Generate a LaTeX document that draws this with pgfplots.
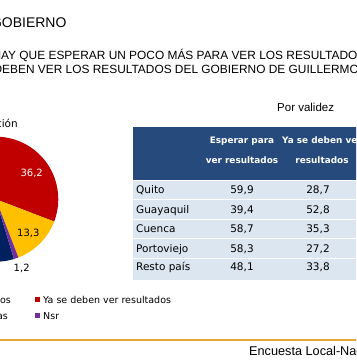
\documentclass[border=0pt]{standalone}
\usepackage{fontspec}
\setmainfont{Liberation Sans}
\newfontfamily\tah{DejaVu Sans}
\usepackage{pgfplots}
\usepackage{pgfplotstable}
\pgfplotsset{compat=1.18}
\definecolor{pieNavy}{HTML}{002060}
\definecolor{pieRed}{HTML}{C00000}
\definecolor{pieYel}{HTML}{FFC000}
\definecolor{piePur}{HTML}{7030A0}
\definecolor{hdr}{HTML}{254A7B}
\definecolor{rowc}{HTML}{DCE6F1}
\definecolor{orng}{HTML}{E3A835}

\pgfplotstableread{
cat value
Esperar 49.3
Ya 36.2
Ambas 13.3
Nsr 1.2
}\piedata

\pgfplotstableread[col sep=semicolon]{
ciudad;esperar;ya
Quito;59,9;28,7
Guayaquil;39,4;52,8
Cuenca;58,7;35,3
Portoviejo;58,3;27,2
Resto país;48,1;33,8
}\tabdata

\begin{document}
\begin{tikzpicture}[x=1pt,y=1pt]
\pgfplotstablegetelem{0}{value}\of\piedata \let\vA\pgfplotsretval
\pgfplotstablegetelem{1}{value}\of\piedata \let\vB\pgfplotsretval
\pgfplotstablegetelem{2}{value}\of\piedata \let\vC\pgfplotsretval
\pgfplotstablegetelem{3}{value}\of\piedata \let\vD\pgfplotsretval
\def\rot{-73.12}
\pgfmathsetmacro\angA{\rot}
\pgfmathsetmacro\angB{\angA-3.6*\vA}
\pgfmathsetmacro\angC{\angB-3.6*\vB}
\pgfmathsetmacro\angD{\angC-3.6*\vC}
\pgfmathsetmacro\angE{\angD-3.6*\vD}
\def\pieR{62.5}
\def\pcx{-4.2}
\def\pcy{164.8}
\pgfmathsetmacro\pAx{\pcx+\pieR*cos(\angA)}\pgfmathsetmacro\pAy{\pcy+\pieR*sin(\angA)}
\pgfmathsetmacro\pBx{\pcx+\pieR*cos(\angB)}\pgfmathsetmacro\pBy{\pcy+\pieR*sin(\angB)}
\pgfmathsetmacro\pCx{\pcx+\pieR*cos(\angC)}\pgfmathsetmacro\pCy{\pcy+\pieR*sin(\angC)}
\pgfmathsetmacro\pDx{\pcx+\pieR*cos(\angD)}\pgfmathsetmacro\pDy{\pcy+\pieR*sin(\angD)}
\begin{scope}
\clip (0,0) rectangle (356,364);
% pie (axis spans the whole picture, 1 unit = 1pt)
\begin{axis}[hide axis, x=1pt, y=1pt, xmin=0, xmax=356, ymin=0, ymax=364,
  anchor=south west, at={(0,0)}, clip=false, scale only axis]
\addplot[draw=none] coordinates {(0,0)};
\fill[pieNavy] (axis cs:\pcx,\pcy) -- (axis cs:\pAx,\pAy) arc[start angle=\angA, end angle=\angB, radius=\pieR pt] -- cycle;
\fill[pieRed] (axis cs:\pcx,\pcy) -- (axis cs:\pBx,\pBy) arc[start angle=\angB, end angle=\angC, radius=\pieR pt] -- cycle;
\fill[pieYel] (axis cs:\pcx,\pcy) -- (axis cs:\pCx,\pCy) arc[start angle=\angC, end angle=\angD, radius=\pieR pt] -- cycle;
\fill[piePur] (axis cs:\pcx,\pcy) -- (axis cs:\pDx,\pDy) arc[start angle=\angD, end angle=\angE, radius=\pieR pt] -- cycle;
\node[white, font=\tah\fontsize{10}{12}\selectfont, inner sep=0] at (axis cs:31.7,190.7) {36,2};
\node[black, font=\tah\fontsize{10}{12}\selectfont, inner sep=0] at (axis cs:28.3,130.7) {13,3};
\node[black, font=\tah\fontsize{10}{12}\selectfont, inner sep=0] at (axis cs:21.7,96) {1,2};
\end{axis}
% titles
\node[anchor=base east, inner sep=0, font=\fontsize{14}{16}\selectfont] at (66.7,336) {EVALUACIÓN DEL GOBIERNO};
\node[anchor=base west, inner sep=0, font=\fontsize{11.9}{13}\selectfont] at (-7.6,304) {HAY QUE ESPERAR UN POCO MÁS PARA VER LOS RESULTADOS};
\node[anchor=base west, inner sep=0, font=\fontsize{11.9}{13}\selectfont] at (-6.6,290.5) {DEBEN VER LOS RESULTADOS DEL GOBIERNO DE GUILLERMO LASSO?};
\node[anchor=base west, inner sep=0, font=\fontsize{11.5}{13}\selectfont] at (277,252) {Por validez};
\node[anchor=base east, inner sep=0, font=\tah\fontsize{10.5}{12}\selectfont] at (18,236) {Población};
% table
\fill[hdr] (133,184) rectangle (370,237);
\foreach \t/\b in {180/199.5, 199.5/219, 219/238.5, 238.5/258, 258/280}{
  \fill[rowc] (133,{364-\t-1}) rectangle (370,{364-\b});
}
\begin{scope}[every node/.style={inner sep=0, text=white, font=\tah\bfseries\fontsize{8.9}{10}\selectfont}]
\node[anchor=base] at (242,220.5) {Esperar para};
\node[anchor=base] at (242,200.5) {ver resultados};
\node[anchor=base] at (322,220.5) {Ya se deben ver};
\node[anchor=base] at (322,200.5) {resultados};
\end{scope}
\begin{scope}[every node/.style={inner sep=0, font=\tah\fontsize{10.5}{12}\selectfont}]
\foreach \r/\c in {0/190, 1/209.5, 2/229, 3/248.5, 4/267}{
  \pgfplotstablegetelem{\r}{ciudad}\of\tabdata
  \node[anchor=base west] at (136,{364-\c-3.8}) {\pgfplotsretval};
  \pgfplotstablegetelem{\r}{esperar}\of\tabdata
  \node[anchor=base] at (242,{364-\c-3.8}) {\pgfplotsretval};
  \pgfplotstablegetelem{\r}{ya}\of\tabdata
  \node[anchor=base] at (318,{364-\c-3.8}) {\pgfplotsretval};
}
\end{scope}
% legend
\begin{scope}[every node/.style={inner sep=0, font=\tah\fontsize{9.5}{11}\selectfont}]
\node[anchor=base east] at (11,60.6) {Esperar para ver resultados};
\node[anchor=base east] at (8,44.6) {Ambas};
\fill[pieRed] (35,61.5) rectangle (40,66.5);
\node[anchor=base west] at (43,60.6) {Ya se deben ver resultados};
\fill[piePur] (35,45.5) rectangle (40,50.5);
\node[anchor=base west] at (43,44.6) {Nsr};
\end{scope}
\draw[orng, line width=1.5pt] (-5,24) -- (370,24);
\node[anchor=base west, inner sep=0, font=\fontsize{12.7}{14}\selectfont] at (249,8.7) {Encuesta Local-Nacional};
\end{scope}
\pgfresetboundingbox
\useasboundingbox (0,0) rectangle (356,364);
\end{tikzpicture}
\end{document}
